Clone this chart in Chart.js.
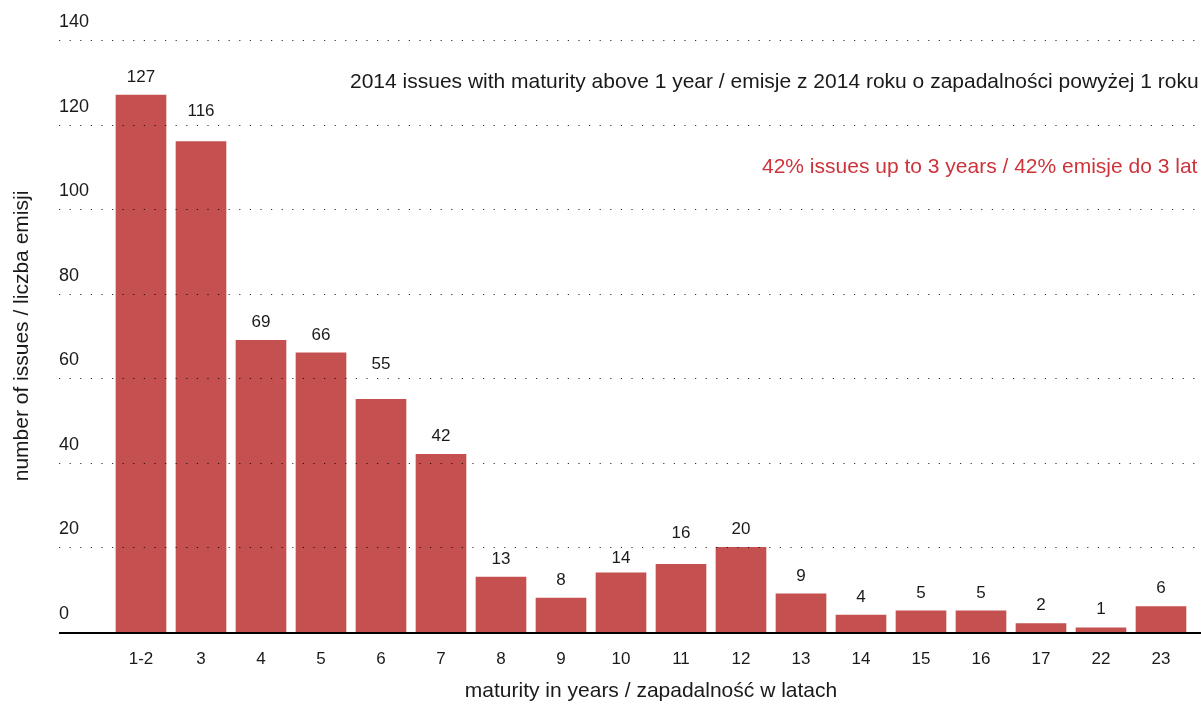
<!DOCTYPE html>
<html>
<head>
<meta charset="utf-8">
<script src="https://cdn.jsdelivr.net/npm/chart.js@4.4.0/dist/chart.umd.min.js"></script>
<style>
  html, body { margin: 0; padding: 0; background: #fff; }
  #wrap { width: 1201px; height: 704px; position: relative; }
</style>
</head>
<body>
<div id="wrap"><canvas id="c" width="1201" height="704"></canvas></div>
<script>
const categories = ['1-2','3','4','5','6','7','8','9','10','11','12','13','14','15','16','17','22','23'];
const issues = [127,116,69,66,55,42,13,8,14,16,20,9,4,5,5,2,1,6];
const yMin = 0, yMax = 140, yStep = 20;
const titleText = '2014 issues with maturity above 1 year / emisje z 2014 roku o zapadalności powyżej 1 roku';
const noteText = '42% issues up to 3 years / 42% emisje do 3 lat';
const xTitle = 'maturity in years / zapadalność w latach';
const yTitle = 'number of issues / liczba emisji';

const FONT = "'Liberation Sans', Arial, Helvetica, sans-serif";
const TXT = '#1a1a1a';

const overlay = {
  id: 'overlay',
  afterDatasetsDraw(chart) {
    const ctx = chart.ctx;
    const ys = chart.scales.y;
    const W = chart.width;
    const gridYs = [];
    ctx.save();
    // dotted grid lines over the full width
    ys.ticks.forEach(t => {
      const py = Math.round(ys.getPixelForValue(t.value)) + 0.5;
      if (t.value === 0) return;
      gridYs.push(py);
      ctx.beginPath();
      ctx.setLineDash([1.2, 9.4]);
      ctx.strokeStyle = 'rgba(0,0,0,0.8)';
      ctx.lineWidth = 1;
      ctx.moveTo(59, py);
      ctx.lineTo(W, py);
      ctx.stroke();
    });
    // baseline
    ctx.setLineDash([]);
    const p0 = ys.getPixelForValue(0);
    ctx.beginPath();
    ctx.strokeStyle = '#000';
    ctx.lineWidth = 2;
    ctx.moveTo(59, p0 + 1);
    ctx.lineTo(W, p0 + 1);
    ctx.stroke();
    // value labels
    ctx.font = '17px ' + FONT;
    ctx.fillStyle = TXT;
    ctx.textAlign = 'center';
    ctx.textBaseline = 'middle';
    const meta = chart.getDatasetMeta(0);
    meta.data.forEach((el, i) => {
      let y = el.y - 18;
      gridYs.forEach(g => {
        if (y > g - 9 && y < g + 5) y = g - 14;
        else if (y >= g + 5 && y < g + 11) y = g + 11;
      });
      ctx.fillText(String(issues[i]), el.x, y);
    });
    // annotation texts
    ctx.textAlign = 'left';
    ctx.font = '21px ' + FONT;
    ctx.fillStyle = TXT;
    ctx.fillText(titleText, 350, 82);
    ctx.fillStyle = '#cc333a';
    ctx.fillText(noteText, 762, 167);
    ctx.restore();
  }
};

new Chart(document.getElementById('c'), {
  type: 'bar',
  data: {
    labels: categories,
    datasets: [{
      data: issues,
      backgroundColor: '#c4504f',
      borderWidth: 0,
      barThickness: 50
    }]
  },
  options: {
    responsive: false,
    animation: false,
    devicePixelRatio: 1,
    layout: { padding: { top: 40, right: 10, bottom: 0, left: 0 } },
    plugins: { legend: { display: false }, tooltip: { enabled: false } },
    scales: {
      x: {
        grid: { display: false, drawTicks: false },
        border: { display: false },
        ticks: { color: TXT, font: { size: 17, family: FONT }, padding: 17, maxRotation: 0, autoSkip: false },
        title: { display: true, text: xTitle, color: TXT, font: { size: 21, family: FONT }, padding: { top: 8, bottom: 0 } },
        afterFit(scale) { scale.height = 72; }
      },
      y: {
        min: yMin, max: yMax,
        grid: { display: false, drawTicks: false },
        border: { display: false },
        ticks: { stepSize: yStep, mirror: true, padding: -52, labelOffset: -18, color: TXT, font: { size: 18, family: FONT } },
        title: { display: true, text: yTitle, color: TXT, font: { size: 21, family: FONT }, padding: { top: 10, bottom: 0 } },
        afterFit(scale) { scale.width = 111; }
      }
    }
  },
  plugins: [overlay]
});
</script>
</body>
</html>
